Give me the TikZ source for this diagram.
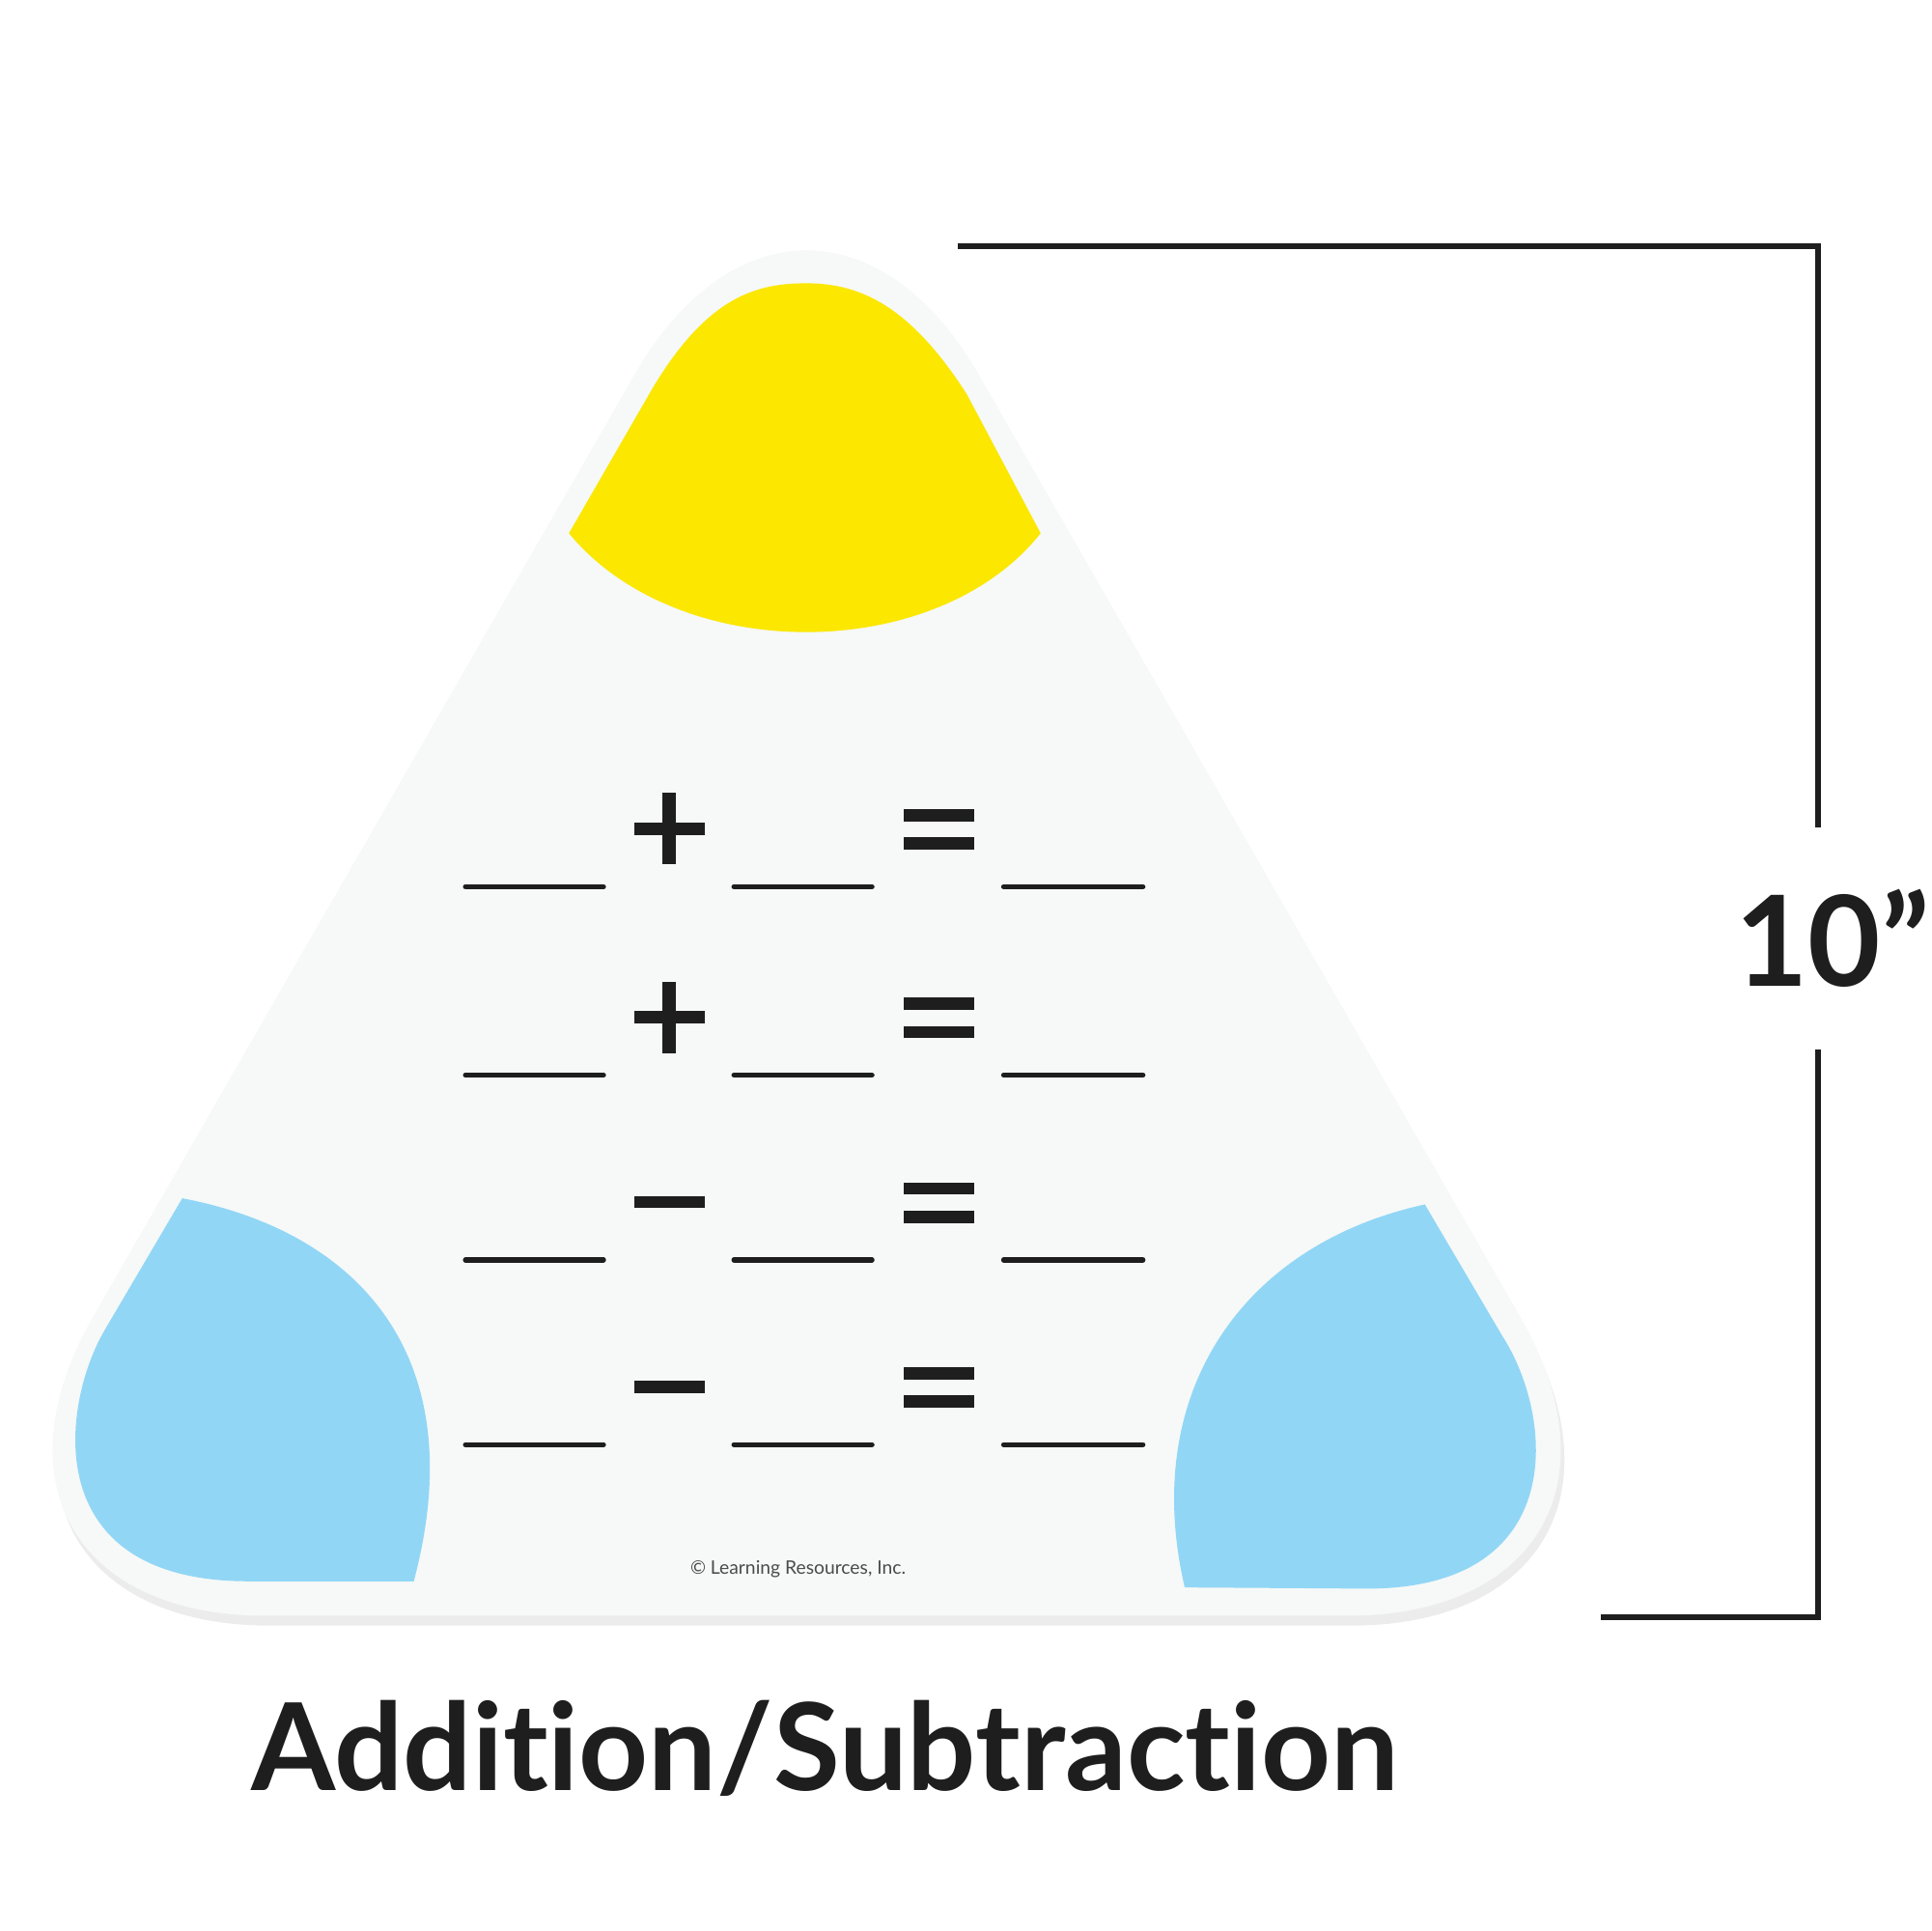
\documentclass[tikz,border=0pt]{standalone}
\usepackage{fontspec}
\setmainfont{Lato}[Ligatures={NoCommon,NoRare}]
\usetikzlibrary{shadows}
\definecolor{board}{HTML}{F6F9F7}
\definecolor{capyellow}{HTML}{FBE700}
\definecolor{capblue}{HTML}{92D6F6}
\definecolor{ink}{HTML}{1E1E1E}
\tikzset{
    blank/.style={ink, line width=1.2pt, line cap=round}, % blank answer line
    opbar/.style={fill=ink}, % operator bars
    dim/.style={ink, line width=1.3pt}
}
\begin{document}
\begin{tikzpicture}[x=0.01cm, y=-0.01cm]
    \useasboundingbox (0,0) rectangle (1568,1568);

    % board
    \fill[board, rounded corners=2.8cm, drop shadow={opacity=0.15, shadow xshift=0.03cm, shadow yshift=-0.08cm}]
        (655,61) -- (1374,1312) -- (-64,1312) -- cycle;

    % coloured corners
    \fill[capyellow] (462,433) -- (530,315) .. controls (575,240) and (615,230) .. (655,230)
        .. controls (700,230) and (740,250) .. (785,320) -- (845,433)
        .. controls (760,540) and (550,540) .. (462,433) -- cycle;
    \fill[capblue] (148,973) -- (85,1080) .. controls (50,1140) and (30,1283) .. (200,1284)
        -- (336,1284) .. controls (385,1100) and (290,1000) .. (148,973) -- cycle;
    \fill[capblue] (1157,978) -- (1220,1085) .. controls (1262,1150) and (1275,1290) .. (1110,1290)
        -- (962,1289) .. controls (925,1130) and (1010,1010) .. (1157,978) -- cycle;

    % equations
    \foreach \y/\op in {720/p, 873/p, 1023/m, 1173/m} {
        \draw[blank] (378,\y) -- (490,\y);
        \draw[blank] (596,\y) -- (708,\y);
        \draw[blank] (815,\y) -- (928,\y);
        \fill[opbar] (515,\y-52) rectangle (572,\y-42);
        \if\op p \fill[opbar] (538,\y-76) rectangle (549,\y-18); \fi
        \fill[opbar] (734,\y-63) rectangle (791,\y-53);
        \fill[opbar] (734,\y-40) rectangle (791,\y-30);
    }
    \node[font=\fontsize{4.3}{5}\selectfont, ink!80] (copy) at (648,1274) {© Learning Resources, Inc.};

    % dimension
    \coordinate (d1) at (778,200);
    \coordinate (d2) at (1476,200);
    \coordinate (d3) at (1476,672);
    \coordinate (d4) at (1476,852);
    \coordinate (d5) at (1476,1313);
    \coordinate (d6) at (1300,1313);
    \draw[dim] (d1) -- (d2) -- (d3);
    \draw[dim] (d4) -- (d5) -- (d6);
    \node[font=\fontsize{29}{32}\bfseries, ink] (size) at (1488,762) {10”};

    \node[font=\fontsize{28}{32}\bfseries, ink] (title) at (670,1420) {Addition/Subtraction};
\end{tikzpicture}
\end{document}
